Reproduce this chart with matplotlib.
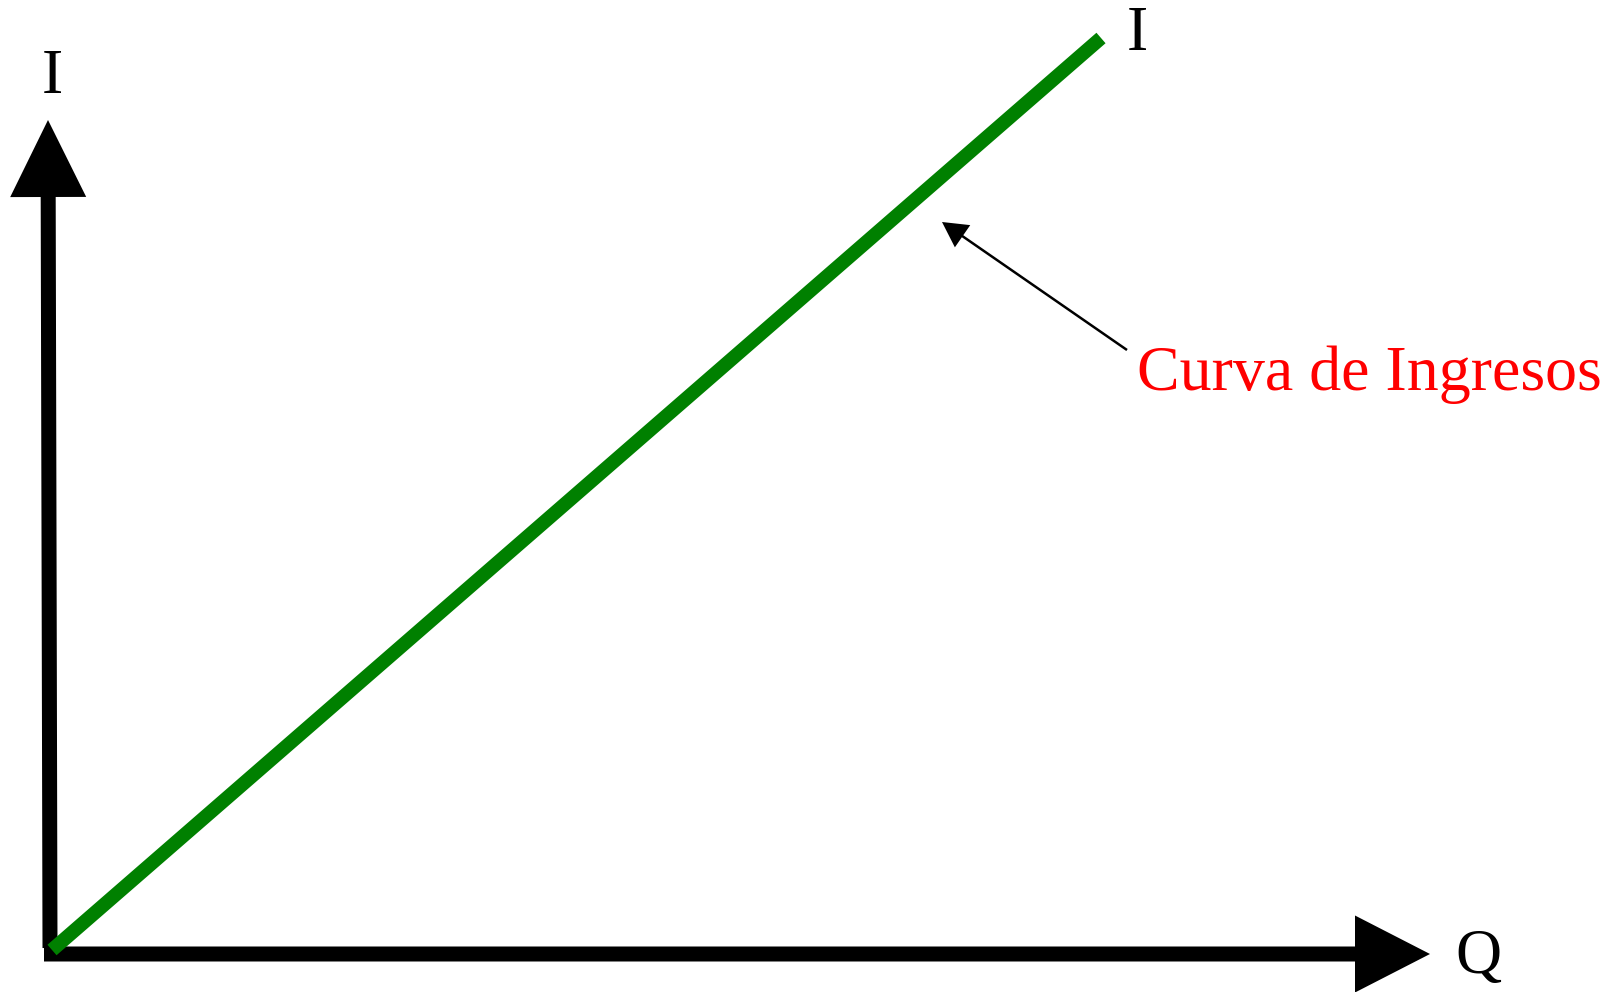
import matplotlib
matplotlib.use("Agg")
import matplotlib.pyplot as plt
from matplotlib.patches import FancyArrow

# Data (units: 1 unit = 100 px, origin at the axes corner)
curve_q = [0.02, 10.51]
curve_i = [0.03, 9.15]
y_axis_start = (0.0, 0.05)
y_axis_tip = (-0.02, 8.33)
x_axis_start = (-0.06, -0.01)
x_axis_tip = (13.80, -0.01)
note_tail = (10.77, 6.03)
note_tip = (8.92, 7.31)
label_curve = "Curva de Ingresos"
label_i = "I"
label_q = "Q"

plt.rcParams['font.family'] = ['Liberation Serif', 'DejaVu Serif']

fig = plt.figure(figsize=(16.2, 9.92), dpi=100)
ax = fig.add_axes([0, 0, 1, 1])
ax.set_xlim(-0.5, 15.7)
ax.set_ylim(-0.39, 9.53)
ax.axis('off')

# Axes arrows
ax.add_patch(FancyArrow(y_axis_start[0], y_axis_start[1],
                        y_axis_tip[0] - y_axis_start[0], y_axis_tip[1] - y_axis_start[1],
                        width=0.15, head_width=0.76, head_length=0.77,
                        length_includes_head=True, color='black', lw=0))
ax.add_patch(FancyArrow(x_axis_start[0], x_axis_start[1],
                        x_axis_tip[0] - x_axis_start[0], x_axis_tip[1] - x_axis_start[1],
                        width=0.15, head_width=0.77, head_length=0.75,
                        length_includes_head=True, color='black', lw=0))

# Revenue curve
ax.plot(curve_q, curve_i, color='#008000', lw=10.0, solid_capstyle='butt', zorder=3)

# Annotation arrow
ax.add_patch(FancyArrow(note_tail[0], note_tail[1],
                        note_tip[0] - note_tail[0], note_tip[1] - note_tail[1],
                        width=0.025, head_width=0.27, head_length=0.25,
                        length_includes_head=True, color='black', lw=0))

fs = 46
ax.text(10.87, 5.63, label_curve, color='red', fontsize=fs, ha='left', va='baseline')
ax.text(0.02, 8.60, label_i, color='black', fontsize=fs, ha='center', va='baseline')
ax.text(10.87, 9.03, label_i, color='black', fontsize=fs, ha='center', va='baseline')
ax.text(14.28, -0.20, label_q, color='black', fontsize=fs, ha='center', va='baseline')

fig.savefig("out.png", dpi=100)
